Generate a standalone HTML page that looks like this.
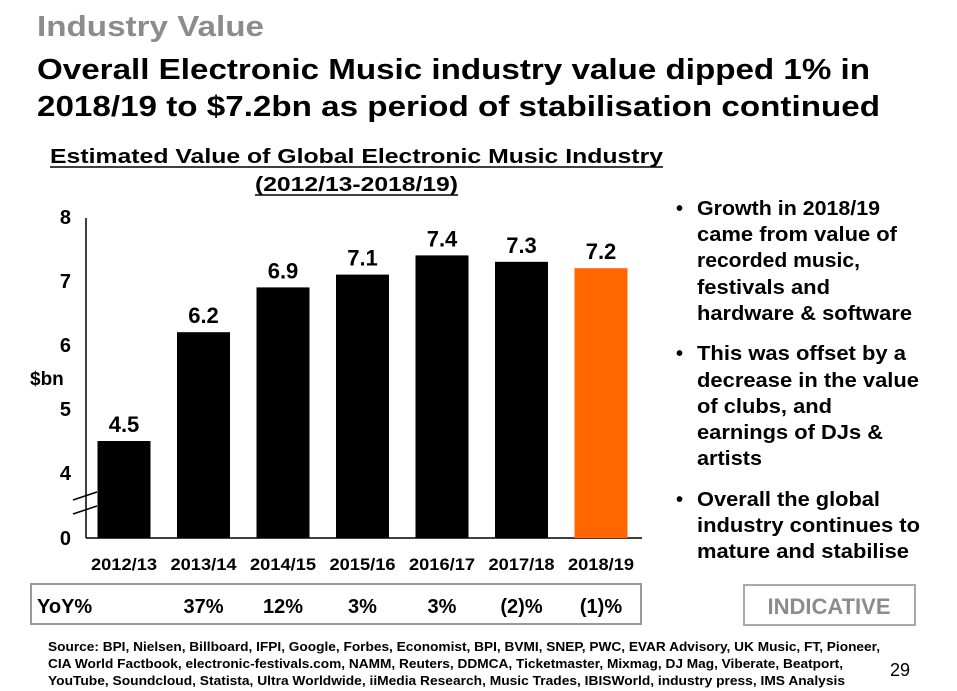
<!DOCTYPE html>
<html><head><meta charset="utf-8"><style>
body{margin:0;background:#fff}
svg{display:block;font-family:"Liberation Sans",sans-serif;font-weight:bold}
</style></head><body>
<svg width="957" height="691" viewBox="0 0 957 691" xmlns="http://www.w3.org/2000/svg">
<text x="37" y="36" font-size="29" fill="#8c8c8c" textLength="227" lengthAdjust="spacingAndGlyphs">Industry Value</text>
<text x="37" y="79" font-size="29" fill="#000" textLength="833" lengthAdjust="spacingAndGlyphs">Overall Electronic Music industry value dipped 1% in</text>
<text x="37" y="116" font-size="29" fill="#000" textLength="843" lengthAdjust="spacingAndGlyphs">2018/19 to $7.2bn as period of stabilisation continued</text>
<g>
<text x="50" y="163" font-size="20" textLength="613" lengthAdjust="spacingAndGlyphs">Estimated Value of Global Electronic Music Industry</text>
<line x1="50" y1="167" x2="663" y2="167" stroke="#000" stroke-width="1.6"/>
<text x="255" y="191" font-size="20" textLength="203" lengthAdjust="spacingAndGlyphs">(2012/13-2018/19)</text>
<line x1="255" y1="195" x2="458" y2="195" stroke="#000" stroke-width="1.6"/>
</g>
<g id="chart"></g>
<text x="30" y="385" font-size="19">$bn</text>
<rect x="31" y="584" width="610" height="40" fill="none" stroke="#999" stroke-width="2"/>
<text x="37" y="613" font-size="20">YoY%</text>
<g id="yoy"></g>
<rect x="744" y="585" width="171" height="40" fill="none" stroke="#aaa" stroke-width="2"/>
<text x="829" y="614" font-size="22" fill="#8c8c8c" text-anchor="middle">INDICATIVE</text>
<g font-size="20">
<text x="676" y="215">•</text>
<text x="697" y="215" textLength="183" lengthAdjust="spacingAndGlyphs">Growth in 2018/19</text>
<text x="697" y="241" textLength="200" lengthAdjust="spacingAndGlyphs">came from value of</text>
<text x="697" y="267" textLength="163" lengthAdjust="spacingAndGlyphs">recorded music,</text>
<text x="697" y="294" textLength="133" lengthAdjust="spacingAndGlyphs">festivals and</text>
<text x="697" y="320" textLength="215" lengthAdjust="spacingAndGlyphs">hardware &amp; software</text>
<text x="676" y="360">•</text>
<text x="697" y="360" textLength="209" lengthAdjust="spacingAndGlyphs">This was offset by a</text>
<text x="697" y="387" textLength="222" lengthAdjust="spacingAndGlyphs">decrease in the value</text>
<text x="697" y="413" textLength="135" lengthAdjust="spacingAndGlyphs">of clubs, and</text>
<text x="697" y="439" textLength="186" lengthAdjust="spacingAndGlyphs">earnings of DJs &amp;</text>
<text x="697" y="465" textLength="65" lengthAdjust="spacingAndGlyphs">artists</text>
<text x="676" y="506">•</text>
<text x="697" y="506" textLength="183" lengthAdjust="spacingAndGlyphs">Overall the global</text>
<text x="697" y="532" textLength="223" lengthAdjust="spacingAndGlyphs">industry continues to</text>
<text x="697" y="558" textLength="212" lengthAdjust="spacingAndGlyphs">mature and stabilise</text>
</g>
<g font-size="12.5">
<text x="48" y="651" textLength="832" lengthAdjust="spacingAndGlyphs">Source: BPI, Nielsen, Billboard, IFPI, Google, Forbes, Economist, BPI, BVMI, SNEP, PWC, EVAR Advisory, UK Music, FT, Pioneer,</text>
<text x="48" y="668" textLength="795" lengthAdjust="spacingAndGlyphs">CIA World Factbook, electronic-festivals.com, NAMM, Reuters, DDMCA, Ticketmaster, Mixmag, DJ Mag, Viberate, Beatport,</text>
<text x="48" y="685" textLength="797" lengthAdjust="spacingAndGlyphs">YouTube, Soundcloud, Statista, Ultra Worldwide, iiMedia Research, Music Trades, IBISWorld, industry press, IMS Analysis</text>
</g>
<text x="890" y="676" font-size="18" font-weight="normal">29</text>
</svg>
<script>
const categories=["2012/13","2013/14","2014/15","2015/16","2016/17","2017/18","2018/19"];
const values=[4.5,6.2,6.9,7.1,7.4,7.3,7.2];
const valueLabels=["4.5","6.2","6.9","7.1","7.4","7.3","7.2"];
const yoyLabels=["","37%","12%","3%","3%","(2)%","(1)%"];
const yTicks=[4,5,6,7,8];
const NS="http://www.w3.org/2000/svg";
const g=document.getElementById('chart'),gy=document.getElementById('yoy');
const base=538;
function y(v){return v<=0?base:473-(v-4)*64;}
function xc(i){return 124+i*79.5;}
const bw=53;
function mk(t,a,p){const e=document.createElementNS(NS,t);for(const k in a)e.setAttribute(k,a[k]);(p||g).appendChild(e);return e;}
let ax=mk('line',{x1:86,y1:218,x2:86,y2:base,stroke:'#000','stroke-width':1.5});


let bx=mk('line',{x1:86,y1:base,x2:642,y2:base,stroke:'#000','stroke-width':1.5});


yTicks.concat([0]).forEach(v=>{
 const t=mk('text',{x:71,y:y(v)+7,'font-size':20,'text-anchor':'end'});t.textContent=v;
 
 
});
values.forEach((v,i)=>{
 const r=mk('rect',{x:xc(i)-bw/2,y:y(v),width:bw,height:base-y(v),fill:i===values.length-1?'#ff6600':'#000'});
 
 
 const l=mk('text',{x:xc(i),y:y(v)-9,'font-size':22,'text-anchor':'middle'});l.textContent=valueLabels[i];
 
 
 const c=mk('text',{x:xc(i),y:570,'font-size':17,'text-anchor':'middle',textLength:66,lengthAdjust:'spacingAndGlyphs'});c.textContent=categories[i];
 
 
 if(yoyLabels[i]){const q=mk('text',{x:xc(i),y:613,'font-size':20,'text-anchor':'middle'},gy);q.textContent=yoyLabels[i];
 
 }
});
const br=mk('g',{});


mk('line',{x1:73,y1:500,x2:97,y2:492,stroke:'#000','stroke-width':1.5},br);
mk('line',{x1:73,y1:514,x2:97,y2:506,stroke:'#000','stroke-width':1.5},br);
</script>
</body></html>
